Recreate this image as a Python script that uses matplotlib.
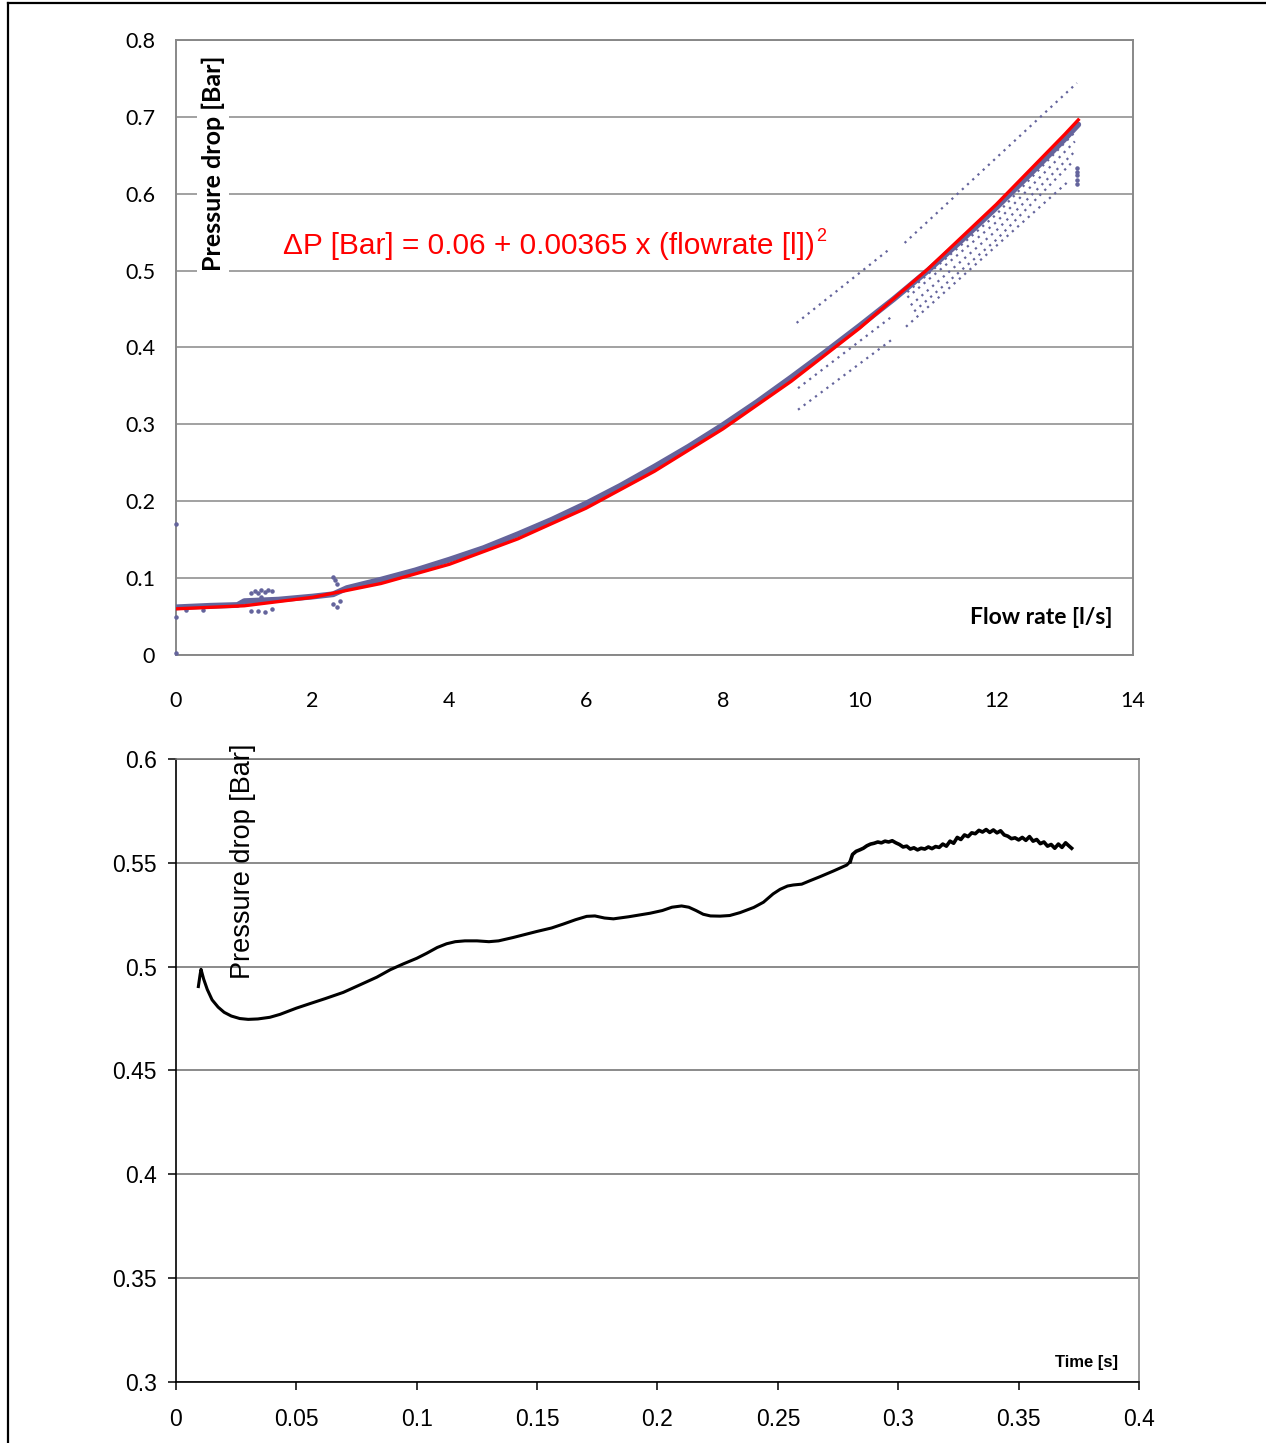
import matplotlib
matplotlib.use("Agg")
import matplotlib.pyplot as plt
from matplotlib.lines import Line2D

# --- top chart: pressure drop vs flow rate ---
flow_main = [0.0, 0.5, 0.9, 1.0, 1.5, 2.0, 2.3, 2.5, 3.0, 3.5, 4.0, 4.5, 5.0, 5.5, 6.0, 6.5,
             7.0, 7.5, 8.0, 8.5, 9.0, 9.5, 10.0, 10.5, 11.0, 11.5, 12.0, 12.5, 13.0, 13.2]
dp_main = [0.062, 0.064, 0.065, 0.070, 0.072, 0.076, 0.079, 0.087, 0.098, 0.110, 0.124,
           0.139, 0.157, 0.176, 0.197, 0.220, 0.245, 0.271, 0.299, 0.329, 0.361, 0.394,
           0.428, 0.463, 0.500, 0.540, 0.582, 0.626, 0.671, 0.690]

flow_fit = [0.0, 1.0, 2.0, 3.0, 4.0, 5.0, 6.0, 7.0, 8.0, 9.0, 10.0, 11.0, 12.0, 13.0, 13.2]
dp_fit = [0.060, 0.064, 0.075, 0.093, 0.118, 0.151, 0.191, 0.239, 0.294, 0.356, 0.425,
          0.502, 0.586, 0.677, 0.696]

# stray readings (offset runs of samples)
stray_runs = [
    ([9.08, 10.44], [0.432, 0.528]),
    ([9.10, 10.47], [0.347, 0.440]),
    ([9.10, 10.47], [0.319, 0.410]),
    ([10.66, 13.18], [0.536, 0.744]),
    ([10.68, 13.08], [0.427, 0.618]),
    ([10.70, 12.00, 13.15], [0.472, 0.573, 0.680]),
    ([10.70, 12.00, 13.15], [0.465, 0.563, 0.668]),
    ([10.75, 12.00, 13.15], [0.455, 0.552, 0.655]),
    ([10.80, 12.00, 13.10], [0.447, 0.540, 0.640]),
]

noise_x = [0.0, 0.0, 0.0, 0.15, 0.4, 1.1, 1.15, 1.2, 1.25, 1.3, 1.35, 1.4, 1.1, 1.2, 1.3,
           1.25, 1.4, 2.3, 2.33, 2.36, 2.3, 2.35, 2.4, 13.18, 13.18, 13.18, 13.18, 13.18]
noise_y = [0.170, 0.002, 0.050, 0.058, 0.058, 0.080, 0.083, 0.081, 0.084, 0.082, 0.085,
           0.083, 0.057, 0.057, 0.056, 0.076, 0.060, 0.101, 0.098, 0.092, 0.066, 0.063,
           0.070, 0.612, 0.618, 0.624, 0.628, 0.633]

# --- bottom chart: pressure drop vs time ---
t_smooth = [0.0093, 0.0100, 0.0104, 0.0115, 0.0130, 0.0150, 0.0175, 0.0200, 0.0230, 0.0265,
            0.0300, 0.0340, 0.0390, 0.0432, 0.0500, 0.0557, 0.0620, 0.0695, 0.0760, 0.0834,
            0.0890, 0.0944, 0.1000, 0.1041, 0.1085, 0.1124, 0.1160, 0.1200, 0.1250, 0.1300,
            0.1340, 0.1400, 0.1498, 0.1560, 0.1609, 0.1660, 0.1706, 0.1740, 0.1780, 0.1817,
            0.1880, 0.1969, 0.2020, 0.2060, 0.2100, 0.2130, 0.2160, 0.2190, 0.2220, 0.2260,
            0.2300, 0.2343, 0.2400, 0.2440, 0.2480, 0.2509, 0.2540, 0.2564, 0.2599, 0.2630,
            0.2675, 0.2730, 0.2786, 0.2800]
p_smooth = [0.4904, 0.4960, 0.4987, 0.4940, 0.4890, 0.4840, 0.4805, 0.4780, 0.4762, 0.4750,
            0.4746, 0.4748, 0.4756, 0.4770, 0.4800, 0.4822, 0.4846, 0.4876, 0.4910, 0.4949,
            0.4985, 0.5013, 0.5040, 0.5064, 0.5092, 0.5110, 0.5120, 0.5124, 0.5124, 0.5120,
            0.5124, 0.5140, 0.5169, 0.5186, 0.5205, 0.5226, 0.5242, 0.5244, 0.5234, 0.5230,
            0.5240, 0.5257, 0.5270, 0.5286, 0.5292, 0.5286, 0.5270, 0.5252, 0.5244, 0.5243,
            0.5246, 0.5260, 0.5285, 0.5310, 0.5350, 0.5372, 0.5388, 0.5393, 0.5397, 0.5412,
            0.5433, 0.5460, 0.5489, 0.5505]
t_noisy = [0.2810, 0.2825, 0.2840, 0.2855, 0.2870, 0.2885, 0.2900, 0.2915, 0.2930, 0.2945,
           0.2960, 0.2975, 0.2990, 0.3005, 0.3020, 0.3035, 0.3050, 0.3065, 0.3080, 0.3095,
           0.3110, 0.3125, 0.3140, 0.3155, 0.3170, 0.3185, 0.3200, 0.3215, 0.3230, 0.3245,
           0.3260, 0.3275, 0.3290, 0.3305, 0.3320, 0.3335, 0.3350, 0.3365, 0.3380, 0.3395,
           0.3410, 0.3425, 0.3440, 0.3455, 0.3470, 0.3485, 0.3500, 0.3515, 0.3530, 0.3545,
           0.3560, 0.3575, 0.3590, 0.3605, 0.3620, 0.3635, 0.3650, 0.3665, 0.3680, 0.3695,
           0.3710, 0.3720]
p_noisy = [0.5540, 0.5555, 0.5562, 0.5570, 0.5582, 0.5590, 0.5594, 0.5600, 0.5596, 0.5604,
           0.5600, 0.5606, 0.5596, 0.5588, 0.5576, 0.5580, 0.5566, 0.5572, 0.5562, 0.5570,
           0.5566, 0.5576, 0.5568, 0.5578, 0.5574, 0.5590, 0.5580, 0.5604, 0.5594, 0.5622,
           0.5612, 0.5634, 0.5626, 0.5644, 0.5640, 0.5656, 0.5648, 0.5660, 0.5646, 0.5658,
           0.5644, 0.5654, 0.5634, 0.5628, 0.5616, 0.5620, 0.5610, 0.5622, 0.5608, 0.5626,
           0.5604, 0.5612, 0.5592, 0.5600, 0.5580, 0.5588, 0.5570, 0.5590, 0.5574, 0.5596,
           0.5580, 0.5570]

top_yticks = [0, 0.1, 0.2, 0.3, 0.4, 0.5, 0.6, 0.7, 0.8]
top_xticks = [0, 2, 4, 6, 8, 10, 12, 14]
bot_yticks = [0.3, 0.35, 0.4, 0.45, 0.5, 0.55, 0.6]
bot_xticks = [0, 0.05, 0.1, 0.15, 0.2, 0.25, 0.3, 0.35, 0.4]

blue = "#64649c"
grid_grey = "#9a9a9a"

fig = plt.figure(figsize=(12.66, 14.43), dpi=100)

# ---------- top ----------
ax1 = fig.add_axes([0.1390, 0.5461, 0.7559, 0.4262])
ax1.set_xlim(0, 14)
ax1.set_ylim(0, 0.8)
ax1.set_yticks(top_yticks)
ax1.set_yticklabels(["0", "0.1", "0.2", "0.3", "0.4", "0.5", "0.6", "0.7", "0.8"])
ax1.set_xticks(top_xticks)
ax1.set_xticklabels([str(v) for v in top_xticks])
ax1.tick_params(axis="y", length=0, pad=15, labelsize=15.5)
ax1.tick_params(axis="x", length=0, pad=26, labelsize=15.5)
for lab in ax1.get_xticklabels() + ax1.get_yticklabels():
    lab.set_family("Lato")
ax1.grid(axis="y", color=grid_grey, lw=1.3)
ax1.set_axisbelow(True)
for sp in ax1.spines.values():
    sp.set_color("#888888")
    sp.set_linewidth(1.4)

ax1.plot(flow_main, dp_main, color=blue, lw=4.2, solid_capstyle="round", zorder=3)
for xs, ys in stray_runs:
    ax1.plot(xs, ys, color=blue, lw=1.6, linestyle=(0, (1, 2.2)), zorder=3)
ax1.scatter(noise_x, noise_y, s=5, color=blue, zorder=3, clip_on=False)
ax1.plot(flow_fit, dp_fit, color="red", lw=2.4, zorder=4)

eq = ax1.text(1.565, 0.5216, "ΔP [Bar] = 0.06 + 0.00365 x (flowrate [l])",
              color="red", fontsize=21.5, family="Liberation Sans", va="baseline", zorder=5)
ax1.annotate("2", xy=(1.0, 0.85), xycoords=eq, xytext=(1, 0), textcoords="offset points",
             color="red", fontsize=13, family="Liberation Sans", ha="left", va="center")

ax1.text(0.039, 0.80, "Pressure drop [Bar]", transform=ax1.transAxes, rotation=90,
         fontsize=18, fontweight="bold", family="Lato", ha="center", va="center",
         bbox=dict(facecolor="white", edgecolor="none", pad=3), zorder=6)
ax1.text(0.904, 0.061, "Flow rate [l/s]", transform=ax1.transAxes,
         fontsize=16.5, fontweight="bold", family="Lato", ha="center", va="center")

# ---------- bottom ----------
ax2 = fig.add_axes([0.1390, 0.04227, 0.7607, 0.4318])
ax2.set_xlim(0, 0.4)
ax2.set_ylim(0.3, 0.6)
ax2.set_yticks(bot_yticks)
ax2.set_yticklabels(["0.3", "0.35", "0.4", "0.45", "0.5", "0.55", "0.6"])
ax2.set_xticks(bot_xticks)
ax2.set_xticklabels(["0", "0.05", "0.1", "0.15", "0.2", "0.25", "0.3", "0.35", "0.4"])
ax2.tick_params(direction="out", length=6, width=1.1, labelsize=16.5, pad=8)
ax2.tick_params(axis="x", pad=13)
for lab in ax2.get_xticklabels() + ax2.get_yticklabels():
    lab.set_family("Liberation Sans")
ax2.grid(axis="y", color="#777777", lw=1.2)
ax2.set_axisbelow(True)
ax2.spines["left"].set_color("black")
ax2.spines["bottom"].set_color("black")
ax2.spines["left"].set_linewidth(1.2)
ax2.spines["bottom"].set_linewidth(1.2)
ax2.spines["right"].set_color("#999999")
ax2.spines["right"].set_linewidth(1.4)
ax2.spines["top"].set_color("#777777")
ax2.spines["top"].set_linewidth(1.2)

ax2.plot(t_smooth, p_smooth, color="black", lw=2.2, solid_joinstyle="round", zorder=3)
ax2.plot([t_smooth[-1]] + t_noisy, [p_smooth[-1]] + p_noisy, color="black", lw=2.6,
         solid_joinstyle="round", zorder=3)

ax2.text(0.0696, 0.836, "Pressure drop [Bar]", transform=ax2.transAxes, rotation=90,
         fontsize=19.5, family="Liberation Sans", ha="center", va="center")
ax2.text(0.945, 0.031, "Time [s]", transform=ax2.transAxes,
         fontsize=12, fontweight="bold", family="Liberation Sans", ha="center", va="center")

# page frame (left and top edges)
fig.add_artist(Line2D([8 / 1266, 8 / 1266], [0, 1 - 3 / 1443], color="black", lw=1.6,
                      transform=fig.transFigure))
fig.add_artist(Line2D([8 / 1266, 1], [1 - 3 / 1443, 1 - 3 / 1443], color="black", lw=1.6,
                      transform=fig.transFigure))

fig.savefig("out.png", dpi=100)
